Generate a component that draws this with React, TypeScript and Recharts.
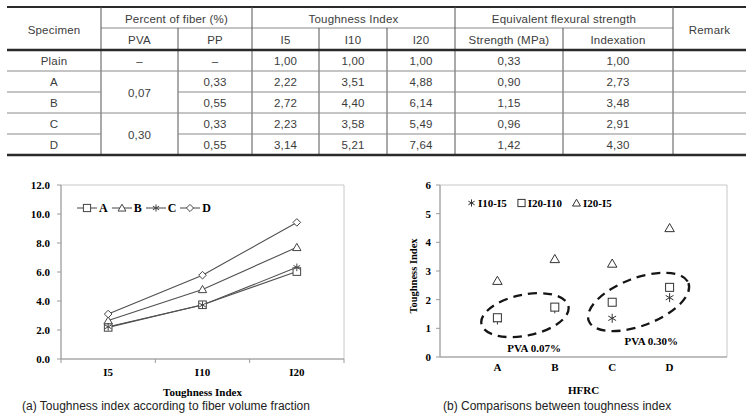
import React from 'react';
import {
  LineChart,
  Line,
  XAxis,
  YAxis,
  ScatterChart,
  Scatter,
  ReferenceArea,
  ReferenceDot,
  Legend,
} from 'recharts';

// ---------- Table: toughness index and equivalent flexural strength ----------
const specimens = ['Plain', 'A', 'B', 'C', 'D'];
const pvaSpans = [
  { label: '–', first: 0, count: 1 },
  { label: '0,07', first: 1, count: 2 },
  { label: '0,30', first: 3, count: 2 },
];
const ppPercent = ['–', '0,33', '0,55', '0,33', '0,55'];
const indexI5 = [1.0, 2.22, 2.72, 2.23, 3.14];
const indexI10 = [1.0, 3.51, 4.4, 3.58, 5.21];
const indexI20 = [1.0, 4.88, 6.14, 5.49, 7.64];
const flexuralStrength = [0.33, 0.9, 1.15, 0.96, 1.42];
const strengthIndexation = [1.0, 2.73, 3.48, 2.91, 4.3];

// ---------- (a) toughness index by fibre volume fraction ----------
const toughnessLabels = ['I5', 'I10', 'I20'];
const curveA = [2.18, 3.74, 6.03];
const curveB = [2.65, 4.8, 7.7];
const curveC = [2.22, 3.72, 6.32];
const curveD = [3.1, 5.78, 9.42];
const leftTicks = [0, 2, 4, 6, 8, 10, 12];

// ---------- (b) toughness index differences per HFRC mix ----------
const hfrcLabels = ['A', 'B', 'C', 'D'];
const diffI10I5 = [1.29, 1.68, 1.35, 2.07];
const diffI20I10 = [1.37, 1.74, 1.91, 2.43];
const diffI20I5 = [2.66, 3.42, 3.26, 4.5];
const rightTicks = [0, 1, 2, 3, 4, 5, 6];
const pvaGroups = ['PVA 0.07%', 'PVA 0.30%'];

const SERIF = '"Liberation Serif", "Times New Roman", serif';
const SANS = '"Liberation Sans", Arial, sans-serif';
const AXIS = '#9a9a9a';
const INK = '#3c3c3c';

type MarkerKind = 'square' | 'triangle' | 'asterisk' | 'diamond';

function Marker({ kind, cx, cy, size = 4, stroke = '#444' }: { kind: MarkerKind; cx: number; cy: number; size?: number; stroke?: string }) {
  if (cx == null || cy == null) return null;
  const s = size;
  if (kind === 'square') {
    return <rect x={cx - s} y={cy - s} width={2 * s} height={2 * s} fill="#fff" stroke={stroke} strokeWidth={1} />;
  }
  if (kind === 'triangle') {
    const pts = `${cx},${cy - s * 1.05} ${cx + s * 1.1},${cy + s * 0.85} ${cx - s * 1.1},${cy + s * 0.85}`;
    return <polygon points={pts} fill="#fff" stroke={stroke} strokeWidth={1} />;
  }
  if (kind === 'diamond') {
    const pts = `${cx},${cy - s} ${cx + s},${cy} ${cx},${cy + s} ${cx - s},${cy}`;
    return <polygon points={pts} fill="#fff" stroke={stroke} strokeWidth={1} />;
  }
  const dx = s * 0.87;
  const dy = s * 0.5;
  return (
    <path
      d={`M${cx},${cy - s}L${cx},${cy + s}M${cx - dx},${cy - dy}L${cx + dx},${cy + dy}M${cx - dx},${cy + dy}L${cx + dx},${cy - dy}`}
      stroke={stroke}
      strokeWidth={1}
      fill="none"
    />
  );
}

// ---------- table ----------
const COLS = [7, 101, 178, 252, 319, 387, 455, 563, 673, 746];
const HEAD_TOP = 7;
const HEAD_MID = 28;
const HEAD_BOT = 50;
const ROW_H = 21;
const rowTop = (i: number) => HEAD_BOT + i * ROW_H;
const fmt = (v: number) => v.toFixed(2).replace('.', ',');
const colMid = (c: number) => (COLS[c] + COLS[c + 1]) / 2;

function Cell({ x, y, children }: { x: number; y: number; children: React.ReactNode }) {
  return (
    <text x={x} y={y} textAnchor="middle" dominantBaseline="central" fontFamily={SANS} fontSize={11.5} letterSpacing={0.2} fill={INK}>
      {children}
    </text>
  );
}

function SummaryTable() {
  const thin = '#8a8a8a';
  const dark = '#2a2a2a';
  const last = rowTop(specimens.length);
  const inner: JSX.Element[] = [];
  for (let i = 1; i < specimens.length; i++) {
    const y = rowTop(i);
    const inSpan = pvaSpans.some((s) => i > s.first && i < s.first + s.count);
    if (inSpan) {
      inner.push(<line key={`h${i}a`} x1={COLS[0]} x2={COLS[1]} y1={y} y2={y} stroke={thin} />);
      inner.push(<line key={`h${i}b`} x1={COLS[2]} x2={COLS[9]} y1={y} y2={y} stroke={thin} />);
    } else {
      inner.push(<line key={`h${i}`} x1={COLS[0]} x2={COLS[9]} y1={y} y2={y} stroke={thin} />);
    }
  }
  const fullVerticals = [1, 3, 6, 8];
  const lowerVerticals = [2, 4, 5, 7];
  return (
    <g>
      <line x1={COLS[0]} x2={COLS[9]} y1={HEAD_TOP} y2={HEAD_TOP} stroke={dark} strokeWidth={2} />
      <line x1={COLS[1]} x2={COLS[8]} y1={HEAD_MID} y2={HEAD_MID} stroke={thin} />
      {fullVerticals.map((c) => (
        <line key={`vf${c}`} x1={COLS[c]} x2={COLS[c]} y1={HEAD_TOP} y2={last} stroke="#555" />
      ))}
      {lowerVerticals.map((c) => (
        <line key={`vl${c}`} x1={COLS[c]} x2={COLS[c]} y1={HEAD_MID} y2={last} stroke="#555" />
      ))}
      {inner}
      <line x1={COLS[0]} x2={COLS[9]} y1={HEAD_BOT} y2={HEAD_BOT} stroke={dark} strokeWidth={2.5} />
      <line x1={COLS[0]} x2={COLS[9]} y1={last} y2={last} stroke={dark} strokeWidth={2.5} />

      <Cell x={colMid(0)} y={29.5}>Specimen</Cell>
      <Cell x={(COLS[1] + COLS[3]) / 2} y={18.5}>Percent of fiber (%)</Cell>
      <Cell x={(COLS[3] + COLS[6]) / 2} y={18.5}>Toughness Index</Cell>
      <Cell x={(COLS[6] + COLS[8]) / 2} y={18.5}>Equivalent flexural strength</Cell>
      <Cell x={colMid(8)} y={29.5}>Remark</Cell>
      <Cell x={colMid(1)} y={40}>PVA</Cell>
      <Cell x={colMid(2)} y={40}>PP</Cell>
      <Cell x={colMid(3)} y={40}>I5</Cell>
      <Cell x={colMid(4)} y={40}>I10</Cell>
      <Cell x={colMid(5)} y={40}>I20</Cell>
      <Cell x={colMid(6)} y={40}>Strength (MPa)</Cell>
      <Cell x={colMid(7)} y={40}>Indexation</Cell>

      {pvaSpans.map((s) => (
        <Cell key={`pva${s.first}`} x={colMid(1)} y={rowTop(s.first) + (s.count * ROW_H) / 2 + 0.5}>
          {s.label}
        </Cell>
      ))}
      {specimens.map((name, i) => {
        const y = rowTop(i) + ROW_H / 2 + 0.5;
        return (
          <g key={name}>
            <Cell x={colMid(0)} y={y}>{name}</Cell>
            <Cell x={colMid(2)} y={y}>{ppPercent[i]}</Cell>
            <Cell x={colMid(3)} y={y}>{fmt(indexI5[i])}</Cell>
            <Cell x={colMid(4)} y={y}>{fmt(indexI10[i])}</Cell>
            <Cell x={colMid(5)} y={y}>{fmt(indexI20[i])}</Cell>
            <Cell x={colMid(6)} y={y}>{fmt(flexuralStrength[i])}</Cell>
            <Cell x={colMid(7)} y={y}>{fmt(strengthIndexation[i])}</Cell>
          </g>
        );
      })}
    </g>
  );
}

// ---------- chart (a) ----------
const lineSeries: { key: string; values: number[]; marker: MarkerKind }[] = [
  { key: 'A', values: curveA, marker: 'square' },
  { key: 'B', values: curveB, marker: 'triangle' },
  { key: 'C', values: curveC, marker: 'asterisk' },
  { key: 'D', values: curveD, marker: 'diamond' },
];

const lineData = toughnessLabels.map((name, i) => {
  const row: Record<string, number | string> = { pos: i + 0.5, name };
  lineSeries.forEach((s) => {
    row[s.key] = s.values[i];
  });
  return row;
});

const tickFont = { fontFamily: SERIF, fontWeight: 700, fontSize: 11, fill: '#000' };

// Category labels sit at band centres, tick marks at band edges.
function CategoryTick(props: any) {
  const { x, y, payload } = props;
  const v = payload.value as number;
  if (Number.isInteger(v)) {
    return <line x1={x} x2={x} y1={y} y2={y + 4} stroke={AXIS} />;
  }
  return (
    <text x={x} y={y + 17} textAnchor="middle" {...tickFont}>
      {toughnessLabels[Math.floor(v)]}
    </text>
  );
}

function LineLegend() {
  return (
    <div style={{ display: 'flex', alignItems: 'center', fontFamily: SERIF, fontWeight: 700, fontSize: 12, color: '#000', lineHeight: '12px' }}>
      {lineSeries.map((s) => (
        <span key={s.key} style={{ display: 'flex', alignItems: 'center', marginRight: 4 }}>
          <svg width={20} height={12}>
            <line x1={0} x2={20} y1={6} y2={6} stroke="#444" />
            <Marker kind={s.marker} cx={10} cy={6} size={3.6} />
          </svg>
          <span style={{ marginLeft: 2 }}>{s.key}</span>
        </span>
      ))}
    </div>
  );
}

function ToughnessChart() {
  return (
    <LineChart width={375} height={240} data={lineData} margin={{ top: 15, right: 31, bottom: 0, left: 0 }}>
      <ReferenceArea x1={0} x2={3} y1={0} y2={12} fill="none" stroke="#c8c8c8" />
      <XAxis
        type="number"
        dataKey="pos"
        domain={[0, 3]}
        ticks={[0, 0.5, 1, 1.5, 2, 2.5, 3]}
        interval={0}
        tickLine={false}
        tickSize={0}
        tickMargin={0}
        tick={<CategoryTick />}
        axisLine={{ stroke: AXIS }}
        height={51}
        label={{ value: 'Toughness Index', position: 'insideBottom', offset: 14, ...tickFont }}
      />
      <YAxis
        type="number"
        domain={[0, 12]}
        ticks={leftTicks}
        interval={0}
        tickFormatter={(v: number) => v.toFixed(1)}
        tick={tickFont}
        tickSize={4}
        tickMargin={7}
        axisLine={{ stroke: AXIS }}
        tickLine={{ stroke: AXIS }}
        width={61}
      />
      <Legend
        layout="horizontal"
        verticalAlign="middle"
        align="center"
        wrapperStyle={{ left: 77, top: 32, width: 'auto' }}
        content={() => <LineLegend />}
      />
      {lineSeries.map((s) => (
        <Line
          key={s.key}
          dataKey={s.key}
          type="linear"
          stroke="#505050"
          strokeWidth={1.1}
          isAnimationActive={false}
          activeDot={false}
          dot={(p: any) => <Marker key={`${s.key}-${p.index}`} kind={s.marker} cx={p.cx} cy={p.cy} size={3.8} stroke="#444" />}
        />
      ))}
    </LineChart>
  );
}

// ---------- chart (b) ----------
const scatterSeries: { name: string; values: number[]; marker: MarkerKind; size: number }[] = [
  { name: 'I10-I5', values: diffI10I5, marker: 'asterisk', size: 4.5 },
  { name: 'I20-I10', values: diffI20I10, marker: 'square', size: 4 },
  { name: 'I20-I5', values: diffI20I5, marker: 'triangle', size: 4.3 },
];

// Dashed outlines grouping the mixes by PVA content (centre in data units).
const groupOutlines = [
  { cx: 1.48, cy: 1.46, rx: 44.4, ry: 20.5, angle: -11.6, lx: 1.64, ly: 0.31, label: pvaGroups[0] },
  { cx: 3.46, cy: 1.92, rx: 53.3, ry: 23.8, angle: -20.8, lx: 3.68, ly: 0.55, label: pvaGroups[1] },
];

function ScatterLegend() {
  return (
    <div style={{ display: 'flex', alignItems: 'center', fontFamily: SERIF, fontWeight: 700, fontSize: 11, color: '#000', lineHeight: '12px' }}>
      {scatterSeries.map((s) => (
        <span key={s.name} style={{ display: 'flex', alignItems: 'center', marginRight: 10 }}>
          <svg width={9} height={10}>
            <Marker kind={s.marker} cx={4.5} cy={5} size={3.6} stroke="#333" />
          </svg>
          <span style={{ marginLeft: 2 }}>{s.name}</span>
        </span>
      ))}
    </div>
  );
}

function DifferenceChart() {
  return (
    <ScatterChart width={375} height={240} margin={{ top: 15, right: 23, bottom: 0, left: 0 }}>
      <ReferenceArea x1={0} x2={5} y1={0} y2={6} fill="none" stroke="#c8c8c8" />
      <XAxis
        type="number"
        dataKey="x"
        domain={[0, 5]}
        ticks={[1, 2, 3, 4]}
        interval={0}
        tickFormatter={(v: number) => hfrcLabels[v - 1]}
        tick={tickFont}
        tickLine={false}
        tickSize={0}
        tickMargin={6}
        axisLine={{ stroke: AXIS }}
        height={53}
        label={{ value: 'HFRC', position: 'insideBottom', offset: 16, ...tickFont }}
      />
      <YAxis
        type="number"
        dataKey="y"
        domain={[0, 6]}
        ticks={rightTicks}
        interval={0}
        tick={tickFont}
        tickSize={4}
        tickMargin={5}
        axisLine={{ stroke: AXIS }}
        tickLine={{ stroke: AXIS }}
        width={65}
        label={{
          content: ({ viewBox }: any) => {
            const x = viewBox.x + 38;
            const y = viewBox.y + viewBox.height / 2 + 5;
            return (
              <text x={x} y={y} transform={`rotate(-90 ${x} ${y})`} textAnchor="middle" dominantBaseline="central" {...tickFont} fontSize={10.5}>
                Toughness Index
              </text>
            );
          },
        }}
      />
      <Legend
        layout="horizontal"
        verticalAlign="middle"
        align="center"
        wrapperStyle={{ left: 92, top: 27, width: 'auto' }}
        content={() => <ScatterLegend />}
      />
      {groupOutlines.map((g) => (
        <ReferenceDot
          key={`o-${g.label}`}
          x={g.cx}
          y={g.cy}
          r={0}
          shape={(p: any) => (
            <ellipse
              cx={p.cx}
              cy={p.cy}
              rx={g.rx}
              ry={g.ry}
              transform={`rotate(${g.angle} ${p.cx} ${p.cy})`}
              fill="none"
              stroke="#151515"
              strokeWidth={2.3}
              strokeDasharray="9 6"
            />
          )}
        />
      ))}
      {groupOutlines.map((g) => (
        <ReferenceDot
          key={`l-${g.label}`}
          x={g.lx}
          y={g.ly}
          r={0}
          shape={(p: any) => (
            <text x={p.cx} y={p.cy} textAnchor="middle" dominantBaseline="central" {...tickFont}>
              {g.label}
            </text>
          )}
        />
      ))}
      {scatterSeries.map((s) => (
        <Scatter
          key={s.name}
          name={s.name}
          data={hfrcLabels.map((_, i) => ({ x: i + 1, y: s.values[i] }))}
          isAnimationActive={false}
          shape={(p: any) => <Marker kind={s.marker} cx={p.cx} cy={p.cy} size={s.size} stroke="#333" />}
        />
      ))}
    </ScatterChart>
  );
}

export default function App() {
  return (
    <div style={{ position: 'absolute', left: 0, top: 0, width: 750, height: 413, background: '#fff', overflow: 'hidden' }}>
      <svg width={750} height={413} style={{ position: 'absolute', left: 0, top: 0 }}>
        <SummaryTable />
        <text x={22} y={409.5} fontFamily={SANS} fontSize={12} fill="#222">
          (a) Toughness index according to fiber volume fraction
        </text>
        <text x={443} y={409.5} fontFamily={SANS} fontSize={12} fill="#222">
          (b) Comparisons between toughness index
        </text>
      </svg>
      <div style={{ position: 'absolute', left: 0, top: 170 }}>
        <ToughnessChart />
      </div>
      <div style={{ position: 'absolute', left: 375, top: 170 }}>
        <DifferenceChart />
      </div>
    </div>
  );
}
